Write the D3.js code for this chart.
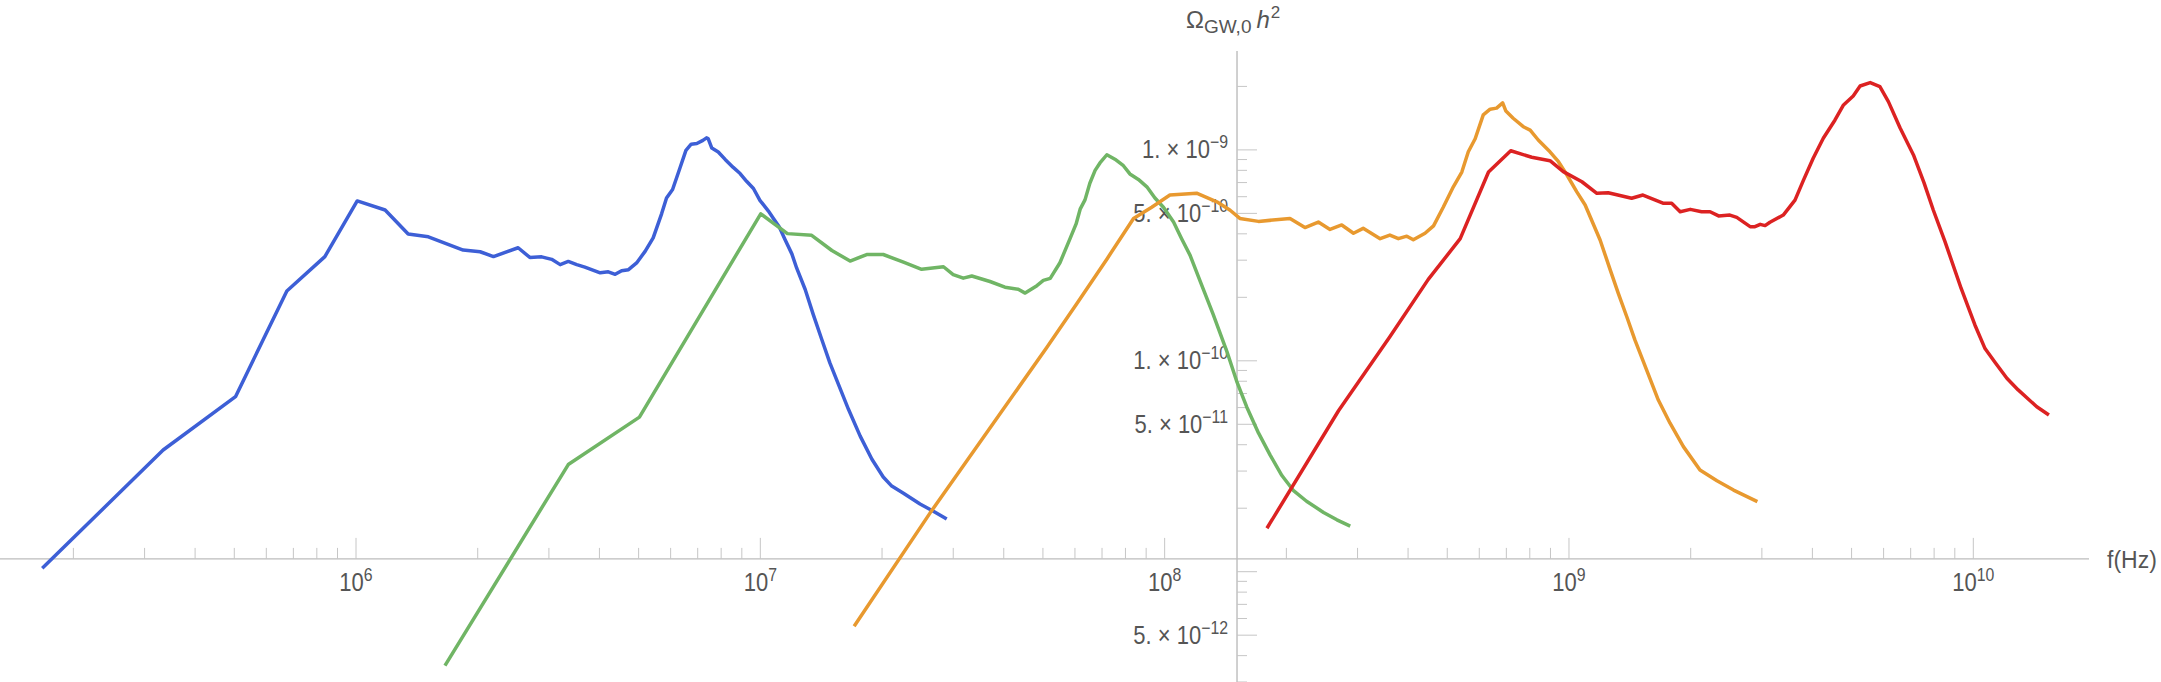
<!DOCTYPE html>
<html>
<head>
<meta charset="utf-8">
<script src="https://cdn.jsdelivr.net/npm/d3@7"></script>
<style>
  body { margin: 0; background: #fff; }
  svg { display: block; }
  text { font-family: "Liberation Sans", Arial, sans-serif; fill: #555; }
</style>
</head>
<body>
<svg id="chart" width="2161" height="682"></svg>
<script>
// curves, as [log10 f(Hz), log10 Omega h^2]
var blueLog = [[5.224,-10.984],[5.523,-10.423],[5.702,-10.170],[5.829,-9.669],[5.923,-9.506],[6.003,-9.242],[6.072,-9.285],[6.129,-9.399],[6.179,-9.412],[6.265,-9.475],[6.307,-9.483],[6.340,-9.506],[6.401,-9.464],[6.430,-9.510],[6.459,-9.507],[6.484,-9.519],[6.505,-9.544],[6.525,-9.529],[6.546,-9.544],[6.566,-9.556],[6.604,-9.583],[6.624,-9.578],[6.641,-9.590],[6.657,-9.573],[6.674,-9.568],[6.694,-9.536],[6.715,-9.481],[6.735,-9.417],[6.756,-9.302],[6.768,-9.228],[6.783,-9.188],[6.801,-9.087],[6.816,-9.002],[6.829,-8.973],[6.843,-8.970],[6.858,-8.955],[6.867,-8.943],[6.871,-8.946],[6.880,-8.991],[6.896,-9.010],[6.913,-9.045],[6.933,-9.083],[6.950,-9.112],[6.966,-9.149],[6.983,-9.183],[6.999,-9.239],[7.020,-9.290],[7.032,-9.324],[7.047,-9.366],[7.061,-9.425],[7.078,-9.493],[7.090,-9.561],[7.111,-9.662],[7.131,-9.781],[7.152,-9.899],[7.172,-10.010],[7.193,-10.111],[7.218,-10.230],[7.247,-10.357],[7.276,-10.467],[7.304,-10.551],[7.325,-10.594],[7.354,-10.628],[7.395,-10.679],[7.428,-10.713],[7.461,-10.750]];

var greenLog = [[6.220,-11.445],[6.525,-10.492],[6.701,-10.267],[7.001,-9.303],[7.067,-9.397],[7.127,-9.405],[7.177,-9.477],[7.222,-9.527],[7.263,-9.496],[7.304,-9.496],[7.354,-9.532],[7.399,-9.566],[7.453,-9.554],[7.477,-9.591],[7.502,-9.608],[7.523,-9.598],[7.568,-9.624],[7.605,-9.651],[7.638,-9.661],[7.655,-9.679],[7.684,-9.644],[7.700,-9.619],[7.717,-9.609],[7.741,-9.535],[7.766,-9.421],[7.781,-9.351],[7.791,-9.281],[7.803,-9.237],[7.815,-9.158],[7.828,-9.097],[7.840,-9.062],[7.857,-9.023],[7.877,-9.044],[7.898,-9.075],[7.914,-9.114],[7.935,-9.140],[7.956,-9.175],[7.976,-9.228],[7.997,-9.272],[8.022,-9.342],[8.042,-9.421],[8.063,-9.500],[8.088,-9.623],[8.120,-9.780],[8.154,-9.956],[8.178,-10.096],[8.203,-10.219],[8.232,-10.342],[8.261,-10.447],[8.290,-10.544],[8.318,-10.614],[8.351,-10.666],[8.393,-10.719],[8.426,-10.754],[8.459,-10.784]];

var orangeLog = [[7.232,-11.259],[7.420,-10.721],[7.708,-9.938],[7.783,-9.728],[7.857,-9.518],[7.923,-9.325],[7.968,-9.272],[8.013,-9.214],[8.079,-9.205],[8.129,-9.246],[8.162,-9.286],[8.186,-9.325],[8.232,-9.339],[8.310,-9.325],[8.347,-9.368],[8.380,-9.342],[8.409,-9.377],[8.438,-9.356],[8.467,-9.395],[8.491,-9.372],[8.533,-9.421],[8.557,-9.404],[8.578,-9.421],[8.599,-9.409],[8.615,-9.426],[8.644,-9.395],[8.665,-9.360],[8.689,-9.272],[8.714,-9.175],[8.735,-9.105],[8.751,-9.009],[8.768,-8.947],[8.788,-8.834],[8.805,-8.807],[8.821,-8.802],[8.836,-8.777],[8.844,-8.816],[8.862,-8.850],[8.887,-8.890],[8.904,-8.906],[8.924,-8.953],[8.953,-9.009],[8.974,-9.056],[8.995,-9.119],[9.019,-9.198],[9.040,-9.261],[9.077,-9.427],[9.102,-9.569],[9.122,-9.680],[9.143,-9.791],[9.163,-9.901],[9.184,-10.004],[9.221,-10.186],[9.250,-10.296],[9.283,-10.407],[9.324,-10.518],[9.366,-10.569],[9.407,-10.613],[9.466,-10.668]];

var redLog = [[8.253,-10.794],[8.430,-10.237],[8.557,-9.886],[8.652,-9.614],[8.731,-9.421],[8.801,-9.105],[8.856,-9.004],[8.908,-9.035],[8.953,-9.051],[8.986,-9.103],[9.032,-9.151],[9.069,-9.206],[9.097,-9.203],[9.155,-9.229],[9.183,-9.214],[9.234,-9.253],[9.254,-9.253],[9.275,-9.293],[9.300,-9.282],[9.328,-9.293],[9.349,-9.293],[9.370,-9.313],[9.398,-9.309],[9.415,-9.320],[9.448,-9.364],[9.460,-9.364],[9.473,-9.353],[9.485,-9.359],[9.497,-9.343],[9.530,-9.309],[9.559,-9.238],[9.580,-9.143],[9.604,-9.040],[9.629,-8.945],[9.658,-8.858],[9.679,-8.787],[9.703,-8.744],[9.720,-8.697],[9.745,-8.681],[9.769,-8.700],[9.790,-8.771],[9.819,-8.896],[9.852,-9.024],[9.878,-9.155],[9.901,-9.285],[9.930,-9.435],[9.970,-9.657],[10.004,-9.830],[10.029,-9.942],[10.054,-10.008],[10.083,-10.083],[10.111,-10.138],[10.157,-10.218],[10.187,-10.257]];

var seriesColors = ["#3d5fd6", "#70b565", "#e8992f", "#dc2222"];

// axes cross at this (f, Omega)
var origin = [1.51e8, 1.15e-11];

var xTickValues = [1e6, 1e7, 1e8, 1e9, 1e10];
var xTickExps = ["6", "7", "8", "9", "10"];
var yTickValues = [1e-9, 5e-10, 1e-10, 5e-11, 5e-12];
var yTickMant = ["1.", "5.", "1.", "5.", "5."];
var yTickExps = ["\u22129", "\u221210", "\u221210", "\u221211", "\u221212"];

var svg = d3.select("#chart");

var x = d3.scaleLog().domain([1e6, 1e10]).range([356, 1973.3]);
x.domain([x.invert(0), x.invert(2089)]).range([0, 2089]);
var y = d3.scaleLog().domain([1e-9, 1e-10]).range([149.9, 360.8]);
y.domain([y.invert(51), y.invert(682)]).range([51, 682]);

var ax = x(origin[0]), ay = y(origin[1]);
var axisColor = "#bcbcbc", tickColor = "#c6c6c6";
var squeeze = " scale(0.88,1)"; // tick label glyphs are narrow in the original

// x axis
var gx = svg.append("g");
gx.append("line")
  .attr("x1", 0).attr("x2", 2089).attr("y1", ay).attr("y2", ay)
  .attr("stroke", axisColor).attr("stroke-width", 1.4);
gx.selectAll("line.tick")
  .data(x.ticks())
  .enter().append("line")
    .attr("class", "tick")
    .attr("x1", function(d){ return x(d); })
    .attr("x2", function(d){ return x(d); })
    .attr("y1", ay)
    .attr("y2", function(d){
      var major = Math.abs(Math.log10(d) - Math.round(Math.log10(d))) < 1e-6;
      return ay - (major ? 21 : 11);
    })
    .attr("stroke", tickColor).attr("stroke-width", 1);

var xl = gx.selectAll("text.xl")
  .data(xTickValues)
  .enter().append("text")
    .attr("class", "xl")
    .attr("transform", function(d){ return "translate(" + x(d) + "," + (ay + 32) + ")" + squeeze; })
    .attr("text-anchor", "middle")
    .attr("font-size", "25px");
xl.append("tspan").text("10");
xl.append("tspan")
  .attr("font-size", "18px").attr("dy", -10)
  .text(function(d, i){ return xTickExps[i]; });

gx.append("text")
  .attr("x", 2107).attr("y", ay + 9)
  .attr("font-size", "23px")
  .text("f(Hz)");

// y axis
var gy = svg.append("g");
gy.append("line")
  .attr("x1", ax).attr("x2", ax).attr("y1", 51).attr("y2", 682)
  .attr("stroke", axisColor).attr("stroke-width", 1.4);
gy.selectAll("line.tick")
  .data(y.ticks())
  .enter().append("line")
    .attr("class", "tick")
    .attr("x1", ax)
    .attr("x2", function(d){
      var m = Math.round(d / Math.pow(10, Math.floor(Math.log10(d) + 1e-9)));
      return ax + ((m === 1 || m === 5) ? 20 : 10);
    })
    .attr("y1", function(d){ return y(d); })
    .attr("y2", function(d){ return y(d); })
    .attr("stroke", tickColor).attr("stroke-width", 1);

var yl = gy.selectAll("text.yl")
  .data(yTickValues)
  .enter().append("text")
    .attr("class", "yl")
    .attr("transform", function(d){ return "translate(" + (ax - 9) + "," + (y(d) + 8.5) + ")" + squeeze; })
    .attr("text-anchor", "end")
    .attr("font-size", "25px");
yl.append("tspan").text(function(d, i){ return yTickMant[i] + " \u00d7 10"; });
yl.append("tspan")
  .attr("font-size", "18px").attr("dy", -10)
  .text(function(d, i){ return yTickExps[i]; });

var yt = gy.append("text")
  .attr("x", 1186).attr("y", 28)
  .attr("font-size", "24px");
yt.append("tspan").text("\u03a9");
yt.append("tspan").attr("font-size", "19px").attr("dy", 5).text("GW,0");
yt.append("tspan").attr("dy", -5).attr("dx", 5).attr("font-style", "italic").text("h");
yt.append("tspan").attr("font-size", "17px").attr("dy", -10).attr("dx", 1).text("2");

// curves
var line = d3.line()
  .x(function(d){ return x(Math.pow(10, d[0])); })
  .y(function(d){ return y(Math.pow(10, d[1])); });

svg.append("g").selectAll("path")
  .data([blueLog, greenLog, orangeLog, redLog])
  .enter().append("path")
    .attr("d", line)
    .attr("fill", "none")
    .attr("stroke", function(d, i){ return seriesColors[i]; })
    .attr("stroke-width", 3.5)
    .attr("stroke-linejoin", "round");
</script>
</body>
</html>
